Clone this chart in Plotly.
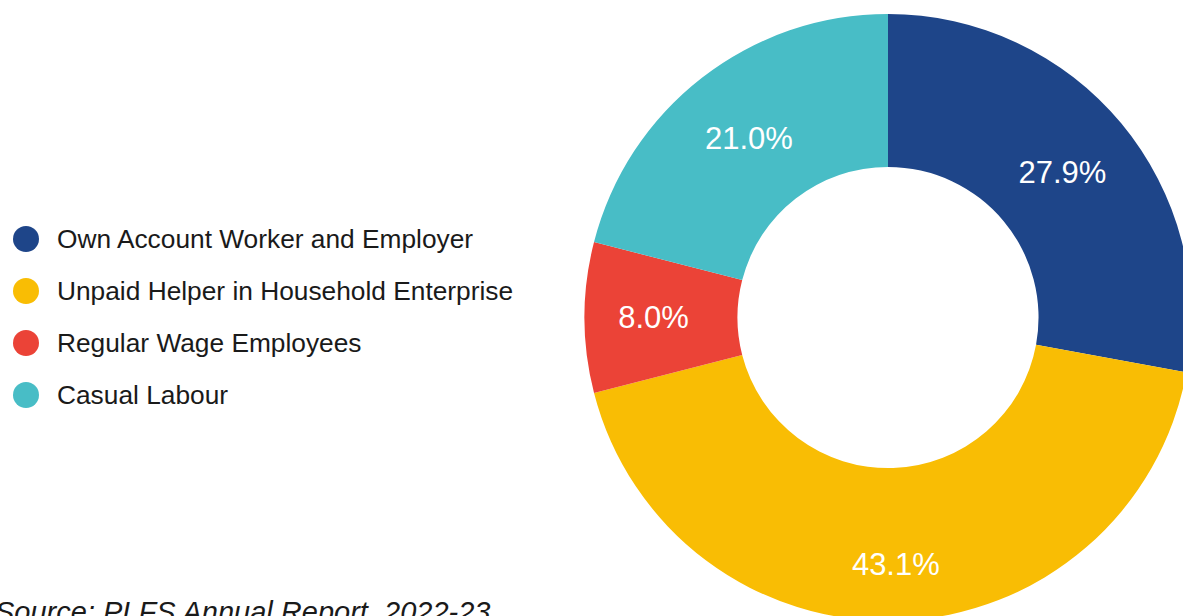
import plotly.graph_objects as go

categories = [
    "Own Account Worker and Employer",
    "Unpaid Helper in Household Enterprise",
    "Regular Wage Employees",
    "Casual Labour",
]
shares = [27.9, 43.1, 8.0, 21.0]
colors = ["#1E4589", "#F9BD04", "#EB4337", "#48BDC6"]
source_text = "Source: PLFS Annual Report, 2022-23"

# figure slightly larger than the window so the donut is cropped at the right/bottom
W, H = 1192, 622
cx, cy, r = 888, 317.5, 303.5  # donut centre and radius in pixels from top-left
FONT = "Liberation Sans, Arial, Helvetica, sans-serif"

# per-slice label templates (small nudges of label placement inside the ring)
label_templates = [
    "%{value:.1f}%",
    "&nbsp;<br>%{value:.1f}%",
    "&nbsp;&nbsp;%{value:.1f}%",
    "%{value:.1f}%",
]

fig = go.Figure()
fig.add_trace(go.Pie(
    labels=categories,
    values=shares,
    marker=dict(colors=colors, line=dict(width=0)),
    hole=0.496,
    sort=False,
    direction="clockwise",
    rotation=0,
    texttemplate=label_templates,
    textposition="inside",
    insidetextorientation="horizontal",
    textfont=dict(family=FONT, size=31, color="white"),
    showlegend=False,
    hoverinfo="label+percent",
    domain=dict(x=[(cx - r) / W, min(1, (cx + r) / W)],
                y=[max(0, (H - cy - r) / H), min(1, (H - cy + r) / H)]),
))

# custom legend with round markers
legend_y0, legend_dy = 239, 52
shapes, annotations = [], []
for i, (name, col) in enumerate(zip(categories, colors)):
    yc = legend_y0 + i * legend_dy
    shapes.append(dict(type="circle", xref="paper", yref="paper",
                       x0=(26 - 13) / W, x1=(26 + 13) / W,
                       y0=(H - yc - 13) / H, y1=(H - yc + 13) / H,
                       fillcolor=col, line=dict(width=0)))
    annotations.append(dict(text=name, xref="paper", yref="paper",
                            x=55 / W, y=(H - yc) / H, xanchor="left", yanchor="middle",
                            showarrow=False,
                            font=dict(family=FONT, size=26.3, color="#1a1a1a")))

annotations.append(dict(text=f"<i>{source_text}</i>", xref="paper", yref="paper",
                        x=-7 / W, y=(H - 630) / H, xanchor="left", yanchor="bottom",
                        showarrow=False,
                        font=dict(family=FONT, size=29, color="#1a1a1a")))

fig.update_layout(
    width=W, height=H,
    margin=dict(l=0, r=0, t=0, b=0),
    paper_bgcolor="white",
    plot_bgcolor="white",
    shapes=shapes,
    annotations=annotations,
)

fig.write_html(
    "out.html",
    config={"displayModeBar": False},
    post_script="document.body.style.margin='0';document.body.style.overflow='hidden';",
)
